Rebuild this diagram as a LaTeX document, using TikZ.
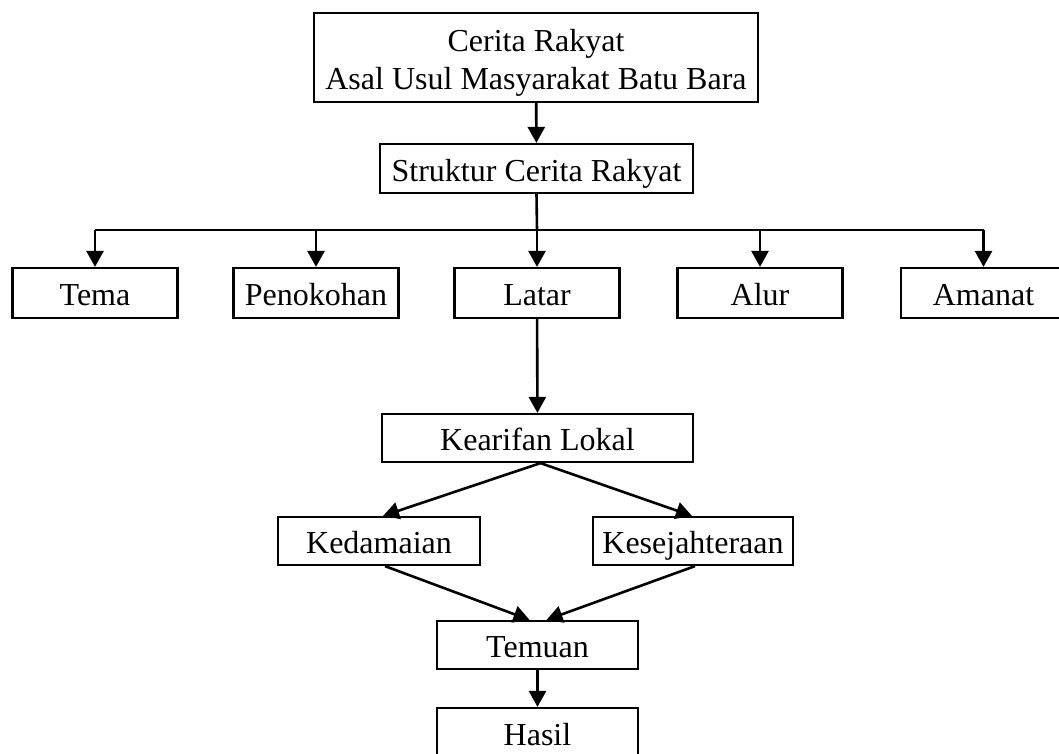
\documentclass[tikz,border=0pt]{standalone}
\usepackage{fontspec}
\setmainfont{Liberation Serif}
\usetikzlibrary{arrows.meta}

\tikzset{
  kotak/.style={draw, line width=2.2pt, minimum height=49pt, inner sep=0pt,
    text height=30pt, text depth=5pt, font=\fontsize{32}{38}\selectfont},
  garis/.style={line width=2.6pt},
  panah/.style={garis, -{Triangle[width=17pt,length=16pt]}},
}

\begin{document}
\begin{tikzpicture}[x=1pt,y=-1pt]
    \useasboundingbox (0,0) rectangle (1059,753);

    % Judul dan struktur
    \node[kotak, minimum width=444pt, minimum height=89pt, align=center,
          text height=, text depth=] (cerita) at (536,57.5)
        {\rule{0pt}{32pt}Cerita Rakyat\\Asal Usul Masyarakat Batu Bara};
    \node[kotak, minimum width=313pt] (struktur) at (536.5,168.5) {Struktur Cerita Rakyat};

    % Unsur cerita
    \node[kotak, minimum width=165pt, minimum height=50pt] (tema) at (95,293) {Tema};
    \node[kotak, minimum width=165pt, minimum height=50pt] (penokohan) at (316,293) {Penokohan};
    \node[kotak, minimum width=165pt, minimum height=50pt] (latar) at (537,293) {Latar};
    \node[kotak, minimum width=165pt, minimum height=50pt] (alur) at (760,293) {Alur};
    \node[kotak, minimum width=165pt, minimum height=50pt] (amanat) at (983.5,293) {Amanat};

    % Kearifan lokal
    \node[kotak, minimum width=311pt, minimum height=48pt] (kearifan) at (537.5,438) {Kearifan Lokal};
    \node[kotak, minimum width=202pt, minimum height=48pt] (kedamaian) at (379,541) {Kedamaian};
    \node[kotak, minimum width=200pt, minimum height=48pt] (sejahtera) at (693,541) {Kesejahteraan};
    \node[kotak, minimum width=201pt, minimum height=48pt] (temuan) at (537.5,645) {Temuan};
    \node[kotak, minimum width=201pt, minimum height=49pt] (hasil) at (537.5,732.5) {Hasil};

    \draw[panah] (cerita) -- (struktur);

    % Cabang ke unsur
    \coordinate (cabang) at (537,230);
    \draw[garis] (struktur.south) -- (cabang);
    \draw[garis] (tema.north |- cabang) -- (amanat.north |- cabang);
    \foreach \n in {tema,penokohan,latar,alur,amanat}
        \draw[panah] (\n.north |- cabang) -- (\n.north);

    \draw[panah] (latar) -- (kearifan);
    \draw[panah] ([xshift=3pt]kearifan.south) -- ([xshift=4pt]kedamaian.north);
    \draw[panah] ([xshift=3pt]kearifan.south) -- ([xshift=-1pt]sejahtera.north);
    \draw[panah] ([xshift=6pt]kedamaian.south) -- ([xshift=-8pt]temuan.north);
    \draw[panah] ([xshift=2pt]sejahtera.south) -- ([xshift=9pt]temuan.north);
    \draw[panah] (temuan) -- (hasil);

\end{tikzpicture}
\end{document}
